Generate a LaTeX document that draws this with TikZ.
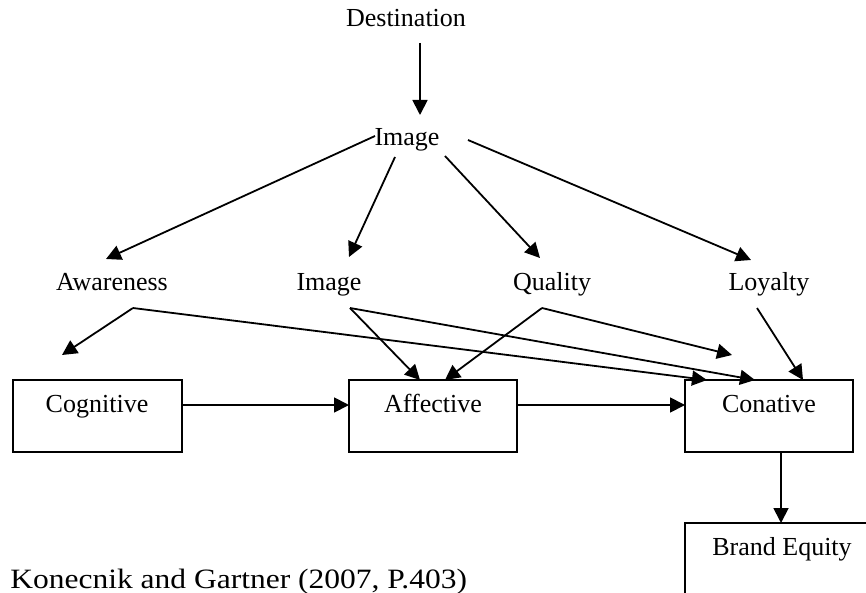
\documentclass[tikz,border=0pt]{standalone}
\usepackage{fontspec}
\setmainfont{Liberation Serif}
\usetikzlibrary{arrows.meta,calc}

\tikzset{
  lbl/.style={inner sep=0pt, anchor=base, font=\fontsize{13}{15.6}\selectfont},
  stagebox/.style={draw, line width=0.9pt, inner sep=0pt, outer sep=0pt, minimum height=36pt},
  link/.style={line width=0.9pt, -{Triangle[length=7.5pt,width=7.5pt]}}
}

\begin{document}
\begin{tikzpicture}[x=0.5pt,y=-0.5pt]
\useasboundingbox (0,0) rectangle (866,593);
\clip (0,0) rectangle (866,593);

% top of the hierarchy
\node[lbl] (dest) at (406,27) {Destination};
\node[lbl] (img)  at (407,146) {Image};

% brand equity dimensions
\node[lbl] (aw)  at (112,290) {Awareness};
\node[lbl] (im2) at (329,290) {Image};
\node[lbl] (qu)  at (552,290) {Quality};
\node[lbl] (loy) at (769,290) {Loyalty};

% attitude stages
\node[stagebox, minimum width=84.5pt] (cog) at (97.5,416) {};
\node[stagebox, minimum width=84pt]   (aff) at (433,416) {};
\node[stagebox, minimum width=84pt]   (cnv) at (769,416) {};
\node[lbl] (cogT) at (97,412)  {Cognitive};
\node[lbl] (affT) at (433,412) {Affective};
\node[lbl] (cnvT) at (769,412) {Conative};

% outcome box, running past the page edge
\node[stagebox, anchor=north west, minimum width=110pt, minimum height=50pt]
  (be) at (685,523) {};
\node[lbl] (beT) at (782,555) {Brand Equity};

% free ends of two arrows
\coordinate (cogIn) at ($(cog.north west)+(49,-25)$);
\coordinate (quEnd) at ($(cnv.north west)+(47,-25)$);

% destination -> image
\draw[link] ($(dest.base)+(14,16)$) -- ($(img.base)+(13,-31)$);

% image -> dimensions
\draw[link] ($(img.base)+(-32,-10)$) -- ($(aw.base)+(-6,-31)$);
\draw[link] ($(img.base)+(-12,11)$)  -- ($(im2.base)+(20,-33)$);
\draw[link] ($(img.base)+(38,10)$)   -- ($(qu.base)+(-12,-32)$);
\draw[link] ($(img.base)+(61,-6)$)   -- ($(loy.base)+(-18,-30)$);

% dimensions -> stages
\draw[link] ($(aw.base)+(21,18)$)  -- (cogIn);
\draw[link] ($(aw.base)+(21,18)$)  -- ($(cnv.north west)+(22,0)$);
\draw[link] ($(im2.base)+(21,18)$) -- ($(aff.north west)+(71,0)$);
\draw[link] ($(im2.base)+(21,18)$) -- ($(cnv.north west)+(70,0)$);
\draw[link] ($(qu.base)+(-10,18)$) -- ($(aff.north west)+(96,0)$);
\draw[link] ($(qu.base)+(-10,18)$) -- (quEnd);
\draw[link] ($(loy.base)+(-12,18)$) -- ($(cnv.north west)+(118,0)$);

% stage sequence
\draw[link] ($(cog.east)+(0,-11)$) -- ($(aff.west)+(0,-11)$);
\draw[link] ($(aff.east)+(0,-11)$) -- ($(cnv.west)+(0,-11)$);
\draw[link] ($(cnv.south west)+(96,0)$) -- ($(be.north west)+(96,0)$);

% source
\node[inner sep=0pt, anchor=base west, font=\fontsize{14}{16.8}\selectfont]
  (src) at (10,588) {\scalebox{1.125}[1]{Konecnik and Gartner (2007, P.403)}};
\end{tikzpicture}
\end{document}
